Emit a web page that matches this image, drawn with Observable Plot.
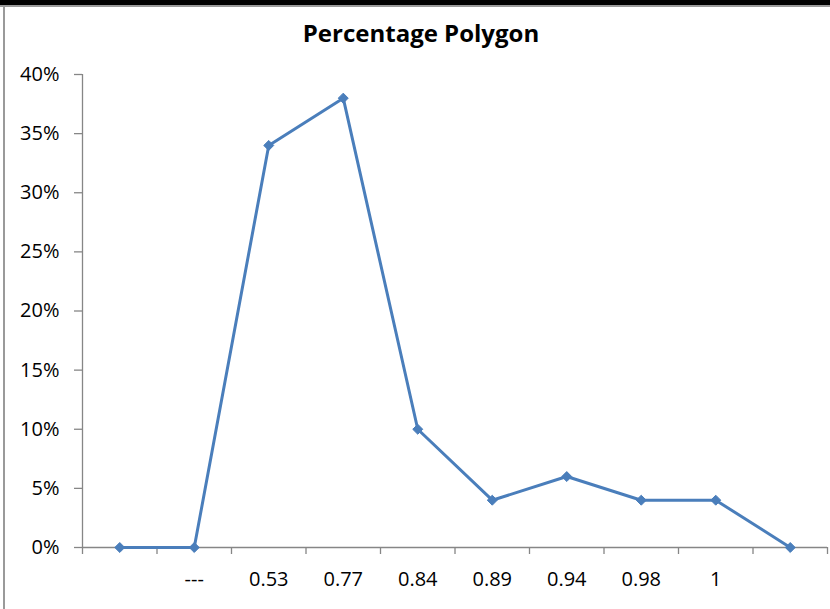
<!DOCTYPE html>
<html>
<head>
<meta charset="utf-8">
<script src="https://cdn.jsdelivr.net/npm/d3@7"></script>
<script src="https://cdn.jsdelivr.net/npm/@observablehq/plot@0.6"></script>
<style>
  html, body { margin: 0; padding: 0; background: #fff; }
  #wrap { position: relative; width: 830px; height: 609px; overflow: hidden; font-family: "Open Sans", sans-serif; }
  #topbar { position: absolute; left: 0; top: 0; width: 830px; height: 5px; background: #000; }
  #topline { position: absolute; left: 0; top: 5px; width: 830px; height: 2px; background: #9a9a9a; }
  #leftline { position: absolute; left: 3px; top: 7px; width: 2px; height: 602px; background: #9a9a9a; }
  #title { position: absolute; left: 0; width: 842px; top: 16px; text-align: center; font-weight: bold; font-size: 24px; line-height: 34px; color: #000; }
  #chart { position: absolute; left: 0; top: 0; }
</style>
</head>
<body>
<div id="wrap">
  <div id="chart"></div>
  <div id="topbar"></div>
  <div id="topline"></div>
  <div id="leftline"></div>
  <div id="title">Percentage Polygon</div>
</div>
<script>
const categories = ["", "---", "0.53", "0.77", "0.84", "0.89", "0.94", "0.98", "1", ""];
const percents = [0, 0, 0.34, 0.38, 0.10, 0.04, 0.06, 0.04, 0.04, 0];
const yTicks = [0, 0.05, 0.10, 0.15, 0.20, 0.25, 0.30, 0.35, 0.40];

const data = categories.map((c, i) => ({i, pos: i + 0.5, label: c, value: percents[i]}));
const boundaries = d3.range(0, categories.length + 1);
const centers = data.map(d => d.pos);
const axisColor = "#868686";
const blue = "#4a7ebb";
const fs = 20;

const chart = Plot.plot({
  width: 830,
  height: 609,
  marginLeft: 82,
  marginRight: 3,
  marginTop: 74,
  marginBottom: 62,
  style: {fontFamily: "Open Sans, sans-serif", fontSize: "20px", color: "#000", background: "transparent"},
  x: {type: "linear", domain: [0, categories.length], axis: null},
  y: {domain: [0, 0.40], axis: null},
  marks: [
    Plot.ruleX([0], {stroke: axisColor, strokeWidth: 1.3}),
    Plot.ruleY([0], {stroke: axisColor, strokeWidth: 1.3}),
    Plot.ruleY(yTicks, {y: d => d, x1: 0, x2: 0, stroke: axisColor, strokeWidth: 1.3, insetLeft: -8}),
    Plot.text(yTicks, {y: d => d, frameAnchor: "left", dx: -23, textAnchor: "end", text: d3.format(".0%"), fontSize: fs, fill: "#000"}),
    Plot.ruleX(boundaries, {x: d => d, y1: 0, y2: 0, stroke: axisColor, strokeWidth: 1.3, insetBottom: -7}),
    Plot.text(centers, {x: d => d, frameAnchor: "bottom", dy: 38, text: d => categories[Math.floor(d)], fontSize: fs, fill: "#000"}),
    Plot.line(data, {x: "pos", y: "value", stroke: blue, strokeWidth: 3}),
    Plot.dot(data, {x: "pos", y: "value", symbol: "diamond2", r: 4.5, fill: blue, stroke: blue, strokeWidth: 1})
  ]
});
document.getElementById("chart").appendChild(chart);
</script>
</body>
</html>
